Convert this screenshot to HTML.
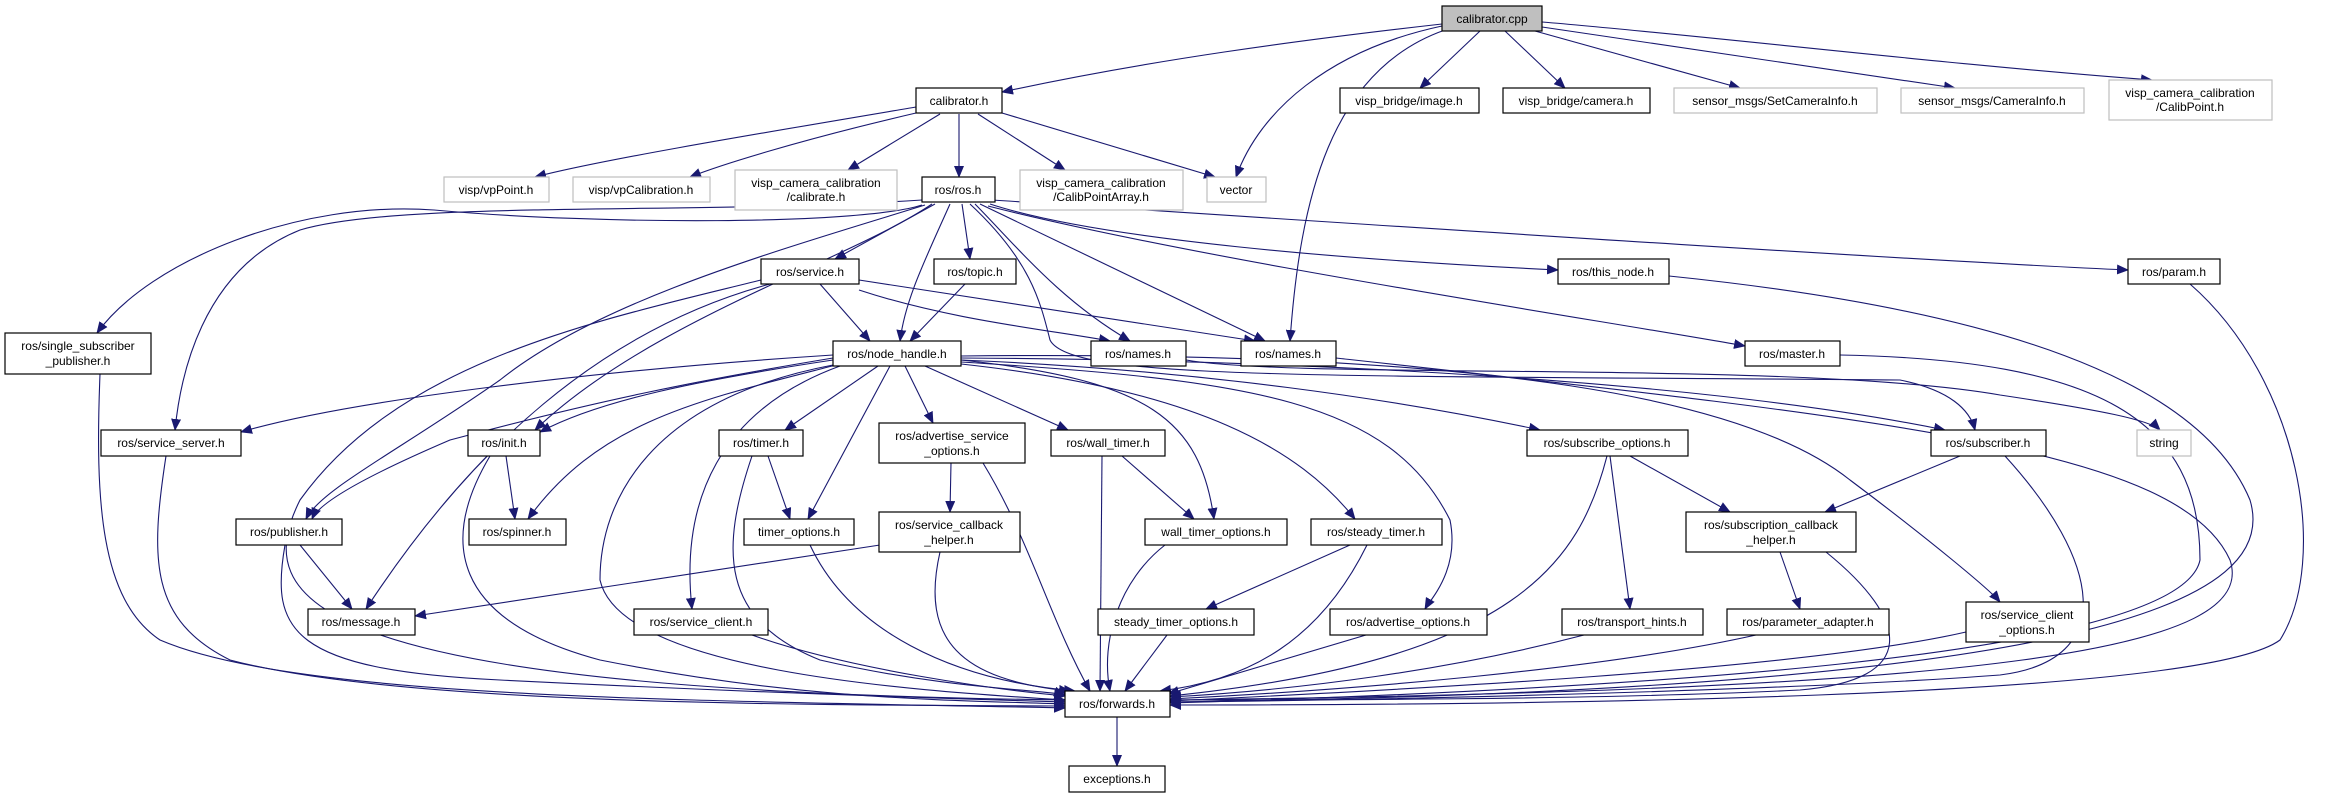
<!DOCTYPE html>
<html><head><meta charset="utf-8"><style>
html,body{margin:0;padding:0;background:#fff;}
svg{display:block;}
text{font-family:"Liberation Sans",sans-serif;font-size:12px;fill:#000;text-anchor:middle;}
.n{fill:#fff;stroke:#000;stroke-width:1.2;}
.g{fill:#fff;stroke:#bfbfbf;stroke-width:1.2;}
.e{fill:none;stroke:#191970;stroke-width:1.1;marker-end:url(#a);}
</style></head><body>
<svg width="2335" height="797" viewBox="0 0 2335 797" xmlns="http://www.w3.org/2000/svg">
<defs><marker id="a" markerUnits="userSpaceOnUse" markerWidth="12" markerHeight="10" refX="11" refY="5" orient="auto"><path d="M0,0 L12,5 L0,10 z" fill="#191970"/></marker></defs>
<g>
<path class="e" d="M1442,24 C1300,40 1150,60 1002,92"/>
<path class="e" d="M1442,26 C1330,50 1260,110 1236,177"/>
<path class="e" d="M1445,30 C1330,70 1300,200 1290,341"/>
<path class="e" d="M1480,31 L1420,88"/>
<path class="e" d="M1505,31 L1565,88"/>
<path class="e" d="M1535,31 L1740,88"/>
<path class="e" d="M1542,27 L1955,88"/>
<path class="e" d="M1542,22 C1700,35 1950,65 2152,80"/>
<path class="e" d="M916,107 C750,135 600,160 535,177"/>
<path class="e" d="M916,113 C800,140 720,165 690,177"/>
<path class="e" d="M940,114 L848,170"/>
<path class="e" d="M959,114 L959,177"/>
<path class="e" d="M978,114 L1065,170"/>
<path class="e" d="M1002,113 L1215,177"/>
<path class="e" d="M922,205 C860,225 600,225 434,210 C300,200 150,260 97,333"/>
<path class="e" d="M922,200 C700,215 400,200 300,230 C200,270 180,380 175,430"/>
<path class="e" d="M925,205 C780,250 600,300 500,380 C400,450 320,490 306,519"/>
<path class="e" d="M932,204 C850,260 650,320 535,430"/>
<path class="e" d="M935,204 L835,259"/>
<path class="e" d="M950,204 C925,260 905,300 900,341"/>
<path class="e" d="M962,204 L970,259"/>
<path class="e" d="M975,204 C1020,250 1060,300 1130,341"/>
<path class="e" d="M980,204 L1265,341"/>
<path class="e" d="M990,204 C1100,240 1350,260 1558,270"/>
<path class="e" d="M992,200 C1300,220 1900,260 2128,270"/>
<path class="e" d="M988,206 C1200,260 1600,320 1745,346"/>
<path class="e" d="M970,204 C1030,260 1040,300 1050,340 C1070,380 1300,375 1900,380 C1950,390 1970,410 1975,430"/>
<path class="e" d="M770,284 C600,330 470,450 366,609"/>
<path class="e" d="M761,280 C600,320 400,360 300,500 C250,600 300,690 1065,700"/>
<path class="e" d="M820,284 L870,341"/>
<path class="e" d="M859,290 C950,320 1050,330 1110,341"/>
<path class="e" d="M859,280 L1255,341"/>
<path class="e" d="M965,284 L910,341"/>
<path class="e" d="M833,355 C600,370 350,400 241,432"/>
<path class="e" d="M833,358 C700,380 600,400 450,440 C380,470 320,500 312,519"/>
<path class="e" d="M833,360 C700,380 600,400 540,432"/>
<path class="e" d="M840,364 C700,400 600,420 528,519"/>
<path class="e" d="M833,365 C650,400 600,500 600,580 C620,670 900,690 1065,700"/>
<path class="e" d="M840,366 C720,410 680,500 692,609"/>
<path class="e" d="M878,366 L785,430"/>
<path class="e" d="M890,366 L808,519"/>
<path class="e" d="M905,366 L933,423"/>
<path class="e" d="M925,366 L1068,430"/>
<path class="e" d="M961,360 C1150,380 1200,420 1214,519"/>
<path class="e" d="M961,364 C1200,390 1300,450 1355,519"/>
<path class="e" d="M961,362 C1250,380 1390,400 1450,520 C1460,570 1430,600 1425,609"/>
<path class="e" d="M961,360 C1200,370 1400,400 1540,430"/>
<path class="e" d="M961,358 C1300,360 1700,380 1945,430"/>
<path class="e" d="M961,356 C1500,350 1750,400 1850,480 C1930,540 1990,590 2000,602"/>
<path class="e" d="M1186,360 C1300,380 1800,360 2000,395 C2100,410 2150,420 2160,430"/>
<path class="e" d="M1336,358 C1900,420 2180,450 2230,560 C2260,650 2000,690 1170,700"/>
<path class="e" d="M1669,276 C2000,310 2200,380 2250,500 C2280,600 2100,690 1170,702"/>
<path class="e" d="M2190,284 C2300,380 2330,560 2280,640 C2200,700 1500,705 1170,705"/>
<path class="e" d="M1840,355 C2100,360 2200,420 2200,560 C2180,660 1600,690 1170,703"/>
<path class="e" d="M100,374 C95,500 100,600 160,640 C300,700 700,700 1065,708"/>
<path class="e" d="M166,456 C150,560 150,620 230,660 C400,705 800,705 1065,706"/>
<path class="e" d="M490,456 C440,540 450,620 600,660 C800,700 950,700 1065,704"/>
<path class="e" d="M506,456 L515,519"/>
<path class="e" d="M300,545 L352,609"/>
<path class="e" d="M285,545 C270,630 290,670 500,680 C800,695 1000,700 1065,702"/>
<path class="e" d="M768,456 L790,519"/>
<path class="e" d="M752,456 C720,550 720,620 820,660 C950,690 1050,690 1065,695"/>
<path class="e" d="M810,545 C850,630 950,680 1075,691"/>
<path class="e" d="M951,463 L950,512"/>
<path class="e" d="M983,463 C1030,540 1050,620 1090,691"/>
<path class="e" d="M880,545 L415,616"/>
<path class="e" d="M940,552 C920,640 960,680 1070,691"/>
<path class="e" d="M1122,456 L1194,519"/>
<path class="e" d="M1102,456 L1100,691"/>
<path class="e" d="M1165,545 C1120,580 1100,640 1110,691"/>
<path class="e" d="M1350,545 L1206,609"/>
<path class="e" d="M1367,545 C1320,640 1250,680 1160,691"/>
<path class="e" d="M1167,635 L1125,691"/>
<path class="e" d="M1366,635 L1168,694"/>
<path class="e" d="M752,635 C850,670 1000,690 1065,696"/>
<path class="e" d="M1630,456 L1730,512"/>
<path class="e" d="M1610,456 L1630,609"/>
<path class="e" d="M1607,456 C1580,560 1520,660 1170,696"/>
<path class="e" d="M1960,456 L1825,512"/>
<path class="e" d="M2005,456 C2100,560 2120,660 2000,675 C1800,690 1400,700 1170,702"/>
<path class="e" d="M1780,552 L1800,609"/>
<path class="e" d="M1826,552 C1910,620 1920,680 1800,690 C1600,700 1300,700 1170,700"/>
<path class="e" d="M1584,635 C1450,670 1300,690 1170,697"/>
<path class="e" d="M1756,635 C1600,670 1350,690 1170,699"/>
<path class="e" d="M1966,632 C1800,670 1400,690 1170,701"/>
<path class="e" d="M1117,717 L1117,766"/>
</g>
<g>
<rect x="1442" y="6" width="100" height="25" fill="#bfbfbf" stroke="#000" stroke-width="1.2"/><text x="1492" y="23">calibrator.cpp</text>
<rect class="n" x="916" y="88" width="86" height="25"/><text x="959" y="105">calibrator.h</text>
<rect class="n" x="1340" y="88" width="139" height="25"/><text x="1409" y="105">visp_bridge/image.h</text>
<rect class="n" x="1503" y="88" width="147" height="25"/><text x="1576" y="105">visp_bridge/camera.h</text>
<rect class="g" x="1674" y="88" width="203" height="25"/><text x="1775" y="105">sensor_msgs/SetCameraInfo.h</text>
<rect class="g" x="1901" y="88" width="183" height="25"/><text x="1992" y="105">sensor_msgs/CameraInfo.h</text>
<rect class="g" x="2109" y="80" width="163" height="40"/><text x="2190" y="97">visp_camera_calibration</text><text x="2190" y="111">/CalibPoint.h</text>
<rect class="g" x="444" y="177" width="105" height="25"/><text x="496" y="194">visp/vpPoint.h</text>
<rect class="g" x="573" y="177" width="137" height="25"/><text x="641" y="194">visp/vpCalibration.h</text>
<rect class="g" x="735" y="170" width="162" height="40"/><text x="816" y="187">visp_camera_calibration</text><text x="816" y="201">/calibrate.h</text>
<rect class="n" x="922" y="177" width="73" height="25"/><text x="958" y="194">ros/ros.h</text>
<rect class="g" x="1020" y="170" width="163" height="40"/><text x="1101" y="187">visp_camera_calibration</text><text x="1101" y="201">/CalibPointArray.h</text>
<rect class="g" x="1207" y="177" width="59" height="25"/><text x="1236" y="194">vector</text>
<rect class="n" x="761" y="259" width="98" height="25"/><text x="810" y="276">ros/service.h</text>
<rect class="n" x="934" y="259" width="82" height="25"/><text x="975" y="276">ros/topic.h</text>
<rect class="n" x="1558" y="259" width="111" height="25"/><text x="1613" y="276">ros/this_node.h</text>
<rect class="n" x="2128" y="259" width="92" height="25"/><text x="2174" y="276">ros/param.h</text>
<rect class="n" x="5" y="333" width="146" height="41"/><text x="78" y="350">ros/single_subscriber</text><text x="78" y="365">_publisher.h</text>
<rect class="n" x="833" y="341" width="128" height="25"/><text x="897" y="358">ros/node_handle.h</text>
<rect class="n" x="1091" y="341" width="95" height="25"/><text x="1138" y="358">ros/names.h</text>
<rect class="n" x="1241" y="341" width="95" height="25"/><text x="1288" y="358">ros/names.h</text>
<rect class="n" x="1745" y="341" width="95" height="25"/><text x="1792" y="358">ros/master.h</text>
<rect class="n" x="101" y="430" width="140" height="26"/><text x="171" y="447">ros/service_server.h</text>
<rect class="n" x="468" y="430" width="72" height="26"/><text x="504" y="447">ros/init.h</text>
<rect class="n" x="719" y="430" width="84" height="26"/><text x="761" y="447">ros/timer.h</text>
<rect class="n" x="879" y="423" width="146" height="40"/><text x="952" y="440">ros/advertise_service</text><text x="952" y="455">_options.h</text>
<rect class="n" x="1051" y="430" width="114" height="26"/><text x="1108" y="447">ros/wall_timer.h</text>
<rect class="n" x="1527" y="430" width="161" height="26"/><text x="1607" y="447">ros/subscribe_options.h</text>
<rect class="n" x="1931" y="430" width="115" height="26"/><text x="1988" y="447">ros/subscriber.h</text>
<rect class="g" x="2137" y="430" width="54" height="26"/><text x="2164" y="447">string</text>
<rect class="n" x="236" y="519" width="106" height="26"/><text x="289" y="536">ros/publisher.h</text>
<rect class="n" x="469" y="519" width="97" height="26"/><text x="517" y="536">ros/spinner.h</text>
<rect class="n" x="744" y="519" width="110" height="26"/><text x="799" y="536">timer_options.h</text>
<rect class="n" x="879" y="512" width="141" height="40"/><text x="949" y="529">ros/service_callback</text><text x="949" y="544">_helper.h</text>
<rect class="n" x="1145" y="519" width="142" height="26"/><text x="1216" y="536">wall_timer_options.h</text>
<rect class="n" x="1311" y="519" width="131" height="26"/><text x="1376" y="536">ros/steady_timer.h</text>
<rect class="n" x="1686" y="512" width="170" height="40"/><text x="1771" y="529">ros/subscription_callback</text><text x="1771" y="544">_helper.h</text>
<rect class="n" x="308" y="609" width="107" height="26"/><text x="361" y="626">ros/message.h</text>
<rect class="n" x="634" y="609" width="134" height="26"/><text x="701" y="626">ros/service_client.h</text>
<rect class="n" x="1098" y="609" width="156" height="26"/><text x="1176" y="626">steady_timer_options.h</text>
<rect class="n" x="1330" y="609" width="157" height="26"/><text x="1408" y="626">ros/advertise_options.h</text>
<rect class="n" x="1562" y="609" width="141" height="26"/><text x="1632" y="626">ros/transport_hints.h</text>
<rect class="n" x="1727" y="609" width="162" height="26"/><text x="1808" y="626">ros/parameter_adapter.h</text>
<rect class="n" x="1966" y="602" width="123" height="40"/><text x="2027" y="619">ros/service_client</text><text x="2027" y="634">_options.h</text>
<rect class="n" x="1065" y="691" width="105" height="26"/><text x="1117" y="708">ros/forwards.h</text>
<rect class="n" x="1069" y="766" width="96" height="26"/><text x="1117" y="783">exceptions.h</text>
</g>
</svg>
</body></html>
